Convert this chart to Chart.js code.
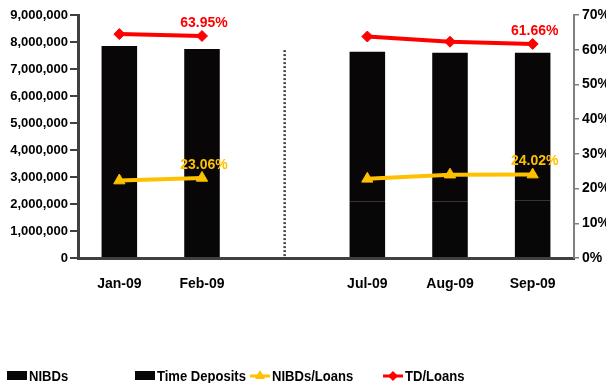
<!DOCTYPE html>
<html>
<head>
<meta charset="utf-8">
<script src="https://cdn.jsdelivr.net/npm/chart.js@4.4.1/dist/chart.umd.min.js"></script>
<style>
  html, body { margin: 0; padding: 0; background: #fff; }
  #wrap { position: relative; width: 606px; height: 383px; overflow: hidden; }
  #legend { position: absolute; left: 0; top: 367px; width: 606px; height: 16px;
    font: bold 15px 'Liberation Sans', Arial, sans-serif; color: #000; }
  .item { position: absolute; top: 0; display: flex; align-items: center; white-space: nowrap; }
  .item canvas { margin-right: 2px; }
  .item span { display: inline-block; transform: scaleX(0.87); transform-origin: left center; }
</style>
</head>
<body>
<div id="wrap">
  <canvas id="depositChart" width="606" height="383"></canvas>
  <div id="legend"></div>
</div>
<script>
const FONT = "'Liberation Sans', Arial, sans-serif";

// data (blank category = break between Feb and Jul)
const categories = ["Jan-09", "Feb-09", "", "Jul-09", "Aug-09", "Sep-09"];
const nibds = [2000000, 2070000, null, 2100000, 2100000, 2120000];
const timeDeposits = [5850000, 5670000, null, 5540000, 5500000, 5480000];
const nibdsLoans = [22.3, 23.06, null, 22.8, 24.0, 24.02];
const tdLoans = [64.5, 63.95, null, 63.8, 62.3, 61.66];
const labelledPoints = [1, 5]; // which points get a value label
const leftTicks = { min: 0, max: 9000000, step: 1000000 };
const rightTicks = { min: 0, max: 70, step: 10 };
const breakIndex = 2;
const breakTop = 7700000;

const legendX = [7, 135, 250, 383];

Chart.defaults.font.family = FONT;
Chart.defaults.color = "#000";

// dotted divider at the empty category
const breakLine = {
    id: "breakLine",
    beforeDatasetsDraw(chart) {
        const { ctx, scales } = chart;
        const x = scales.x.getPixelForValue(breakIndex);
        ctx.save();
        ctx.strokeStyle = "#444";
        ctx.lineWidth = 2.5;
        ctx.setLineDash([2, 2]);
        ctx.beginPath();
        ctx.moveTo(x, scales.y.getPixelForValue(breakTop));
        ctx.lineTo(x, scales.y.getPixelForValue(0));
        ctx.stroke();
        ctx.restore();
    },
};

// value labels above selected line points
const pointLabels = {
    id: "pointLabels",
    afterDatasetsDraw(chart) {
        const { ctx } = chart;
        ctx.save();
        ctx.font = "bold 14px " + FONT;
        ctx.textAlign = "center";
        ctx.textBaseline = "bottom";
        chart.data.datasets.forEach((ds, i) => {
            if (ds.type !== "line") return;
            const meta = chart.getDatasetMeta(i);
            labelledPoints.forEach((idx) => {
                const pt = meta.data[idx];
                if (!pt || ds.data[idx] == null) return;
                ctx.fillStyle = ds.borderColor;
                ctx.fillText(ds.data[idx].toFixed(2) + "%", pt.x + 2, pt.y - 6);
            });
        });
        ctx.restore();
    },
};

const chart = new Chart(document.getElementById("depositChart"), {
    data: {
        labels: categories,
        datasets: [
            {
                type: "line",
                label: "NIBDs/Loans",
                data: nibdsLoans,
                yAxisID: "y1",
                borderColor: "#FFC000",
                backgroundColor: "#FFC000",
                borderWidth: 4,
                pointStyle: "triangle",
                pointRadius: 6.5,
                pointBorderWidth: 1,
                order: 1,
            },
            {
                type: "line",
                label: "TD/Loans",
                data: tdLoans,
                yAxisID: "y1",
                borderColor: "#FF0000",
                backgroundColor: "#FF0000",
                borderWidth: 4,
                pointStyle: "rectRot",
                pointRadius: 5.5,
                pointBorderWidth: 1,
                order: 1,
            },
            {
                type: "bar",
                label: "NIBDs",
                data: nibds,
                backgroundColor: "#070707",
                categoryPercentage: 1,
                barPercentage: 0.43,
                order: 2,
            },
            {
                type: "bar",
                label: "Time Deposits",
                data: timeDeposits,
                backgroundColor: "#080606",
                categoryPercentage: 1,
                barPercentage: 0.43,
                order: 2,
            },
        ],
    },
    options: {
        responsive: false,
        animation: false,
        layout: { padding: { top: 15, left: 0, right: 0, bottom: 0 } },
        plugins: {
            legend: { display: false },
            tooltip: { enabled: false },
        },
        scales: {
            x: {
                stacked: true,
                grid: { display: false },
                border: { color: "#404040", width: 3 },
                ticks: { font: { size: 14, weight: "bold" }, padding: 10 },
                afterFit: (scale) => { scale.height = 125; },
            },
            y: {
                stacked: true,
                position: "left",
                min: leftTicks.min,
                max: leftTicks.max,
                grid: { drawOnChartArea: false, tickLength: 8, color: "#404040", lineWidth: 2 },
                border: { color: "#404040", width: 3 },
                ticks: {
                    stepSize: leftTicks.step,
                    padding: 2,
                    font: { size: 13, weight: "bold" },
                    callback: (v) => v.toLocaleString("en-US"),
                },
                afterFit: (scale) => { scale.width = 78; },
            },
            y1: {
                position: "right",
                min: rightTicks.min,
                max: rightTicks.max,
                grid: { drawOnChartArea: false, tickLength: 5, color: "#808080", lineWidth: 1.5 },
                border: { color: "#808080", width: 2 },
                ticks: {
                    stepSize: rightTicks.step,
                    padding: 3,
                    font: { size: 14, weight: "bold" },
                    callback: (v) => v + "%",
                },
                afterFit: (scale) => { scale.width = 32; },
            },
        },
    },
    plugins: [breakLine, pointLabels],
});

// legend in the fixed columns of the original
const legendOrder = ["NIBDs", "Time Deposits", "NIBDs/Loans", "TD/Loans"];
const legendEl = document.getElementById("legend");
legendOrder.forEach((name, i) => {
    const ds = chart.data.datasets.find((d) => d.label === name);
    const item = document.createElement("div");
    item.className = "item";
    item.style.left = legendX[i] + "px";
    const sw = document.createElement("canvas");
    sw.width = 20;
    sw.height = 14;
    const c = sw.getContext("2d");
    if (ds.type === "bar") {
        c.fillStyle = ds.backgroundColor;
        c.fillRect(0, 2, 20, 9);
    } else {
        c.strokeStyle = ds.borderColor;
        c.lineWidth = 3;
        c.beginPath();
        c.moveTo(0, 7);
        c.lineTo(20, 7);
        c.stroke();
        c.fillStyle = ds.borderColor;
        c.beginPath();
        if (ds.pointStyle === "triangle") {
            c.moveTo(10, 1); c.lineTo(15, 10); c.lineTo(5, 10);
        } else {
            c.moveTo(10, 2); c.lineTo(15, 7); c.lineTo(10, 12); c.lineTo(5, 7);
        }
        c.closePath();
        c.fill();
    }
    item.appendChild(sw);
    const t = document.createElement("span");
    t.textContent = name;
    item.appendChild(t);
    legendEl.appendChild(item);
});
</script>
</body>
</html>
